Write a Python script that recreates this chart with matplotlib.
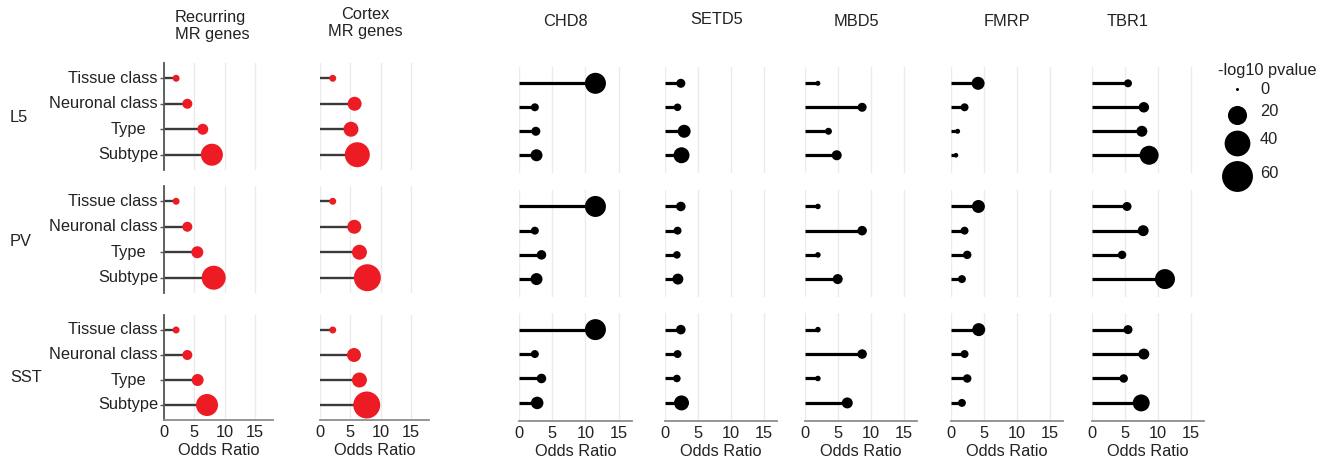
import matplotlib
matplotlib.use("Agg")
import matplotlib.pyplot as plt
import numpy as np

plt.rcParams['font.family'] = ['Liberation Sans', 'DejaVu Sans']

# ---------------- data ----------------
categories = ["Tissue class", "Neuronal class", "Type", "Subtype"]
cell_types = ["L5", "PV", "SST"]
panel_titles = ["Recurring\nMR genes", "Cortex\nMR genes", "CHD8", "SETD5", "MBD5", "FMRP", "TBR1"]
x_ticks = [0, 5, 10, 15]
legend_values = [0, 20, 40, 60]

# odds ratios: rows = cell types (L5, PV, SST), columns = categories
recurring_or = [[2.0, 3.85, 6.4, 7.9], [2.0, 3.85, 5.5, 8.2], [2.0, 3.85, 5.55, 7.1]]
cortex_or = [[2.1, 5.7, 5.1, 6.15], [2.1, 5.65, 6.5, 7.8], [2.1, 5.6, 6.5, 7.7]]
chd8_or = [[11.5, 2.35, 2.5, 2.6], [11.5, 2.35, 3.35, 2.6], [11.5, 2.35, 3.35, 2.7]]
setd5_or = [[2.4, 1.9, 2.9, 2.5], [2.4, 1.9, 1.8, 1.95], [2.4, 1.9, 1.8, 2.5]]
mbd5_or = [[2.0, 8.7, 3.6, 4.85], [2.0, 8.7, 2.0, 5.0], [2.0, 8.7, 2.0, 6.45]]
fmrp_or = [[4.15, 2.1, 1.05, 0.8], [4.2, 2.1, 2.5, 1.7], [4.25, 2.1, 2.5, 1.7]]
tbr1_or = [[5.5, 7.9, 7.6, 8.7], [5.35, 7.8, 4.6, 11.1], [5.5, 7.9, 4.85, 7.5]]

# -log10 p-values
recurring_p = [[1.2, 3.8, 4.9, 27.9], [1.2, 3.8, 6.25, 34.0], [1.2, 3.8, 6.25, 27.9]]
cortex_p = [[1.2, 9.3, 11.1, 37.3], [1.2, 9.3, 11.1, 44.4], [1.2, 9.3, 11.1, 44.4]]
chd8_p = [[25.0, 1.9, 2.8, 6.25], [25.0, 1.9, 3.3, 6.25], [25.0, 1.9, 3.3, 7.0]]
setd5_p = [[2.8, 1.6, 7.7, 13.0], [3.3, 1.9, 1.6, 4.9], [3.3, 1.9, 1.6, 11.1]]
mbd5_p = [[0.3, 2.8, 1.2, 3.8], [0.5, 3.3, 0.5, 3.8], [0.5, 3.3, 0.5, 4.9]]
fmrp_p = [[7.7, 1.9, 0.3, 0.2], [7.7, 1.9, 2.3, 1.9], [7.7, 1.9, 2.3, 1.9]]
tbr1_p = [[1.9, 4.3, 4.9, 19.8], [2.8, 4.9, 2.3, 22.3], [2.8, 4.9, 2.3, 15.1]]

panel_or = [recurring_or, cortex_or, chd8_or, setd5_or, mbd5_or, fmrp_or, tbr1_or]
panel_p = [recurring_p, cortex_p, chd8_p, setd5_p, mbd5_p, fmrp_p, tbr1_p]

# ---------------- layout ----------------
W, H = 1334, 462
FS = 11.8
RED = "#ED1C24"


def size_of(p):
    d_px = 3 + 3.6 * np.sqrt(np.asarray(p, dtype=float))
    return (d_px * 0.72) ** 2


fig = plt.figure(figsize=(W / 100, H / 100), dpi=100)


def add_ax(x0, y0, w, h):
    return fig.add_axes([x0 / W, 1 - (y0 + h) / H, w / W, h / H])


# column geometry (pixels): x of zero, width, xmax
col_x0 = [164, 320, 519.3, 665, 804.7, 950.7, 1091.7]
col_xmax = [18, 18, 17, 17, 17, 17, 17]
col_pxu = [6.06, 6.07, 6.62, 6.6, 6.6, 6.6, 6.6]
left_rows = [(63, 170), (186, 293), (315, 420)]
right_rows = [(67, 173), (190, 297), (313, 421)]

ypos = [4, 3, 2, 1]

for c in range(7):
    left = c < 2
    rows = left_rows if left else right_rows
    color = RED if left else "black"
    lcolor = "#3a3a3a" if left else "black"
    lw = 1.7 if left else 2.3
    for r in range(3):
        y0, y1 = rows[r]
        ax = add_ax(col_x0[c], y0, col_xmax[c] * col_pxu[c], y1 - y0)
        ors = panel_or[c][r]
        ps = panel_p[c][r]
        ax.hlines(ypos, 0, ors, color=lcolor, lw=lw, zorder=2)
        ax.scatter(ors, ypos, s=size_of(ps), color=color, linewidths=0, zorder=3)
        ax.set_xlim(0, col_xmax[c])
        ax.set_ylim((0.4, 4.6) if left else (0.26, 4.68))
        ax.set_xticks(x_ticks)
        ax.grid(axis='x', color='#ebebeb', lw=1.0, zorder=0)
        ax.set_axisbelow(True)
        for s in ['top', 'right']:
            ax.spines[s].set_visible(False)
        if c == 0:
            ax.spines['left'].set_color('#555555')
            ax.spines['left'].set_linewidth(1.3)
            ax.set_yticks(ypos)
            ax.set_yticklabels([])
            ax.tick_params(axis='y', length=3, color='#555555', width=1)
            # category labels
            for i, cat in enumerate(categories):
                xr = -6 if cat != "Type" else -18
                ax.annotate(cat, xy=(0, ypos[i]), xycoords=('axes fraction', 'data'),
                            xytext=(xr * 0.72, 0), textcoords='offset points',
                            ha='right', va='center', fontsize=FS, color='#222222')
        else:
            ax.spines['left'].set_visible(False)
            ax.set_yticks([])
        if r == 2:
            ax.spines['bottom'].set_color('#8c8c8c')
            ax.spines['bottom'].set_linewidth(1.3)
            ax.tick_params(axis='x', length=0, pad=3.5, labelsize=FS, labelcolor='#222222')
            ax.set_xlabel("Odds Ratio", fontsize=FS, labelpad=2.5, color='#222222')
        else:
            ax.spines['bottom'].set_visible(False)
            ax.tick_params(axis='x', length=0, labelbottom=False)

# overlay axes in pixel coordinates for titles, row labels and legend
ov = fig.add_axes([0, 0, 1, 1], zorder=-1)
ov.set_xlim(0, W)
ov.set_ylim(H, 0)
ov.axis('off')

title_pos = [(175, 26, 'left'), (365, 23, 'center'), (565, 22, 'center'), (717, 20, 'center'),
             (856, 22, 'center'), (1007, 22, 'center'), (1128, 22, 'center')]
for t, (x, y, ha) in zip(panel_titles, title_pos):
    ov.text(x, y, t, ha=ha, va='center', fontsize=FS, color='#222222',
            multialignment=ha, linespacing=1.2)

row_label_y = [118, 241, 377]
for lab, y in zip(cell_types, row_label_y):
    ov.text(10, y, lab, ha='left', va='center', fontsize=FS, color='#222222')

# legend
ov.text(1218, 71, "-log10 pvalue", ha='left', va='center', fontsize=FS, color='#222222')
leg_dot_y = [89, 115, 143, 176]
leg_lab_y = [89, 112, 139, 173]
for v, yd, yl in zip(legend_values, leg_dot_y, leg_lab_y):
    ov.scatter([1237], [yd], s=size_of(v), color='black', linewidths=0)
    ov.text(1260, yl, str(v), ha='left', va='center', fontsize=FS, color='#222222')

fig.savefig("out.png", dpi=100)
